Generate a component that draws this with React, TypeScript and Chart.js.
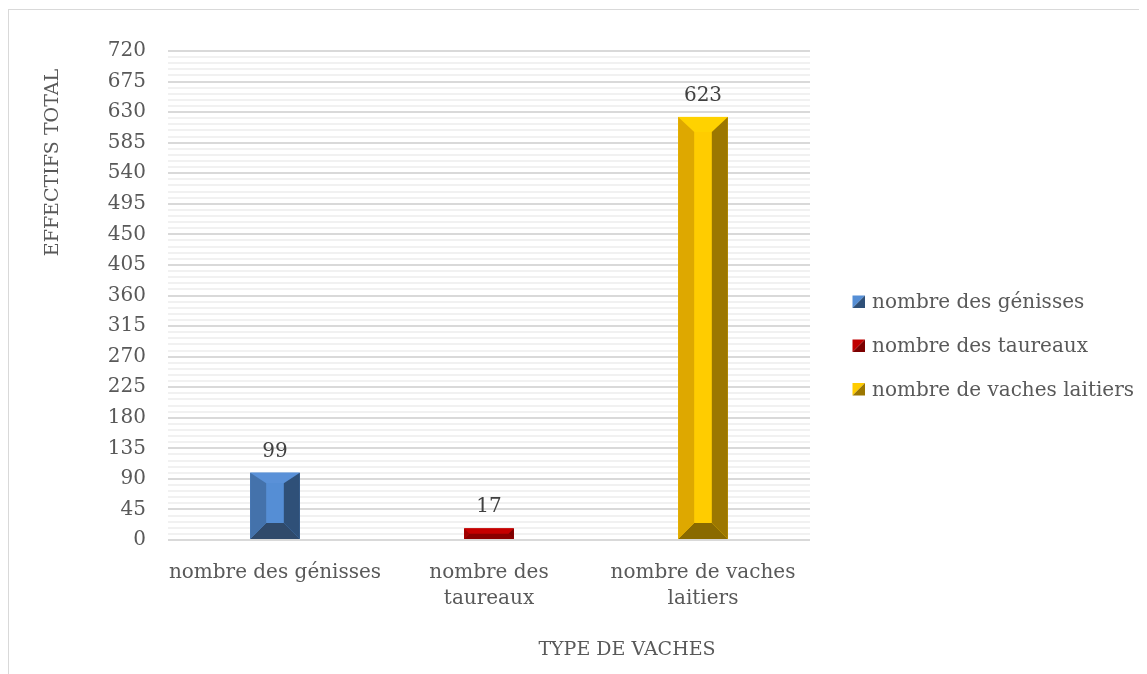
import React, { useEffect, useRef } from 'react';
import { Chart, registerables } from 'chart.js';

Chart.register(...registerables);

// ---- data ----
const categories: string[][] = [
  ['nombre des génisses'],
  ['nombre des', 'taureaux'],
  ['nombre de vaches', 'laitiers'],
];
const legendLabels: string[] = ['nombre des génisses', 'nombre des taureaux', 'nombre de vaches laitiers'];
const values: number[] = [99, 17, 623];
const yMin = 0;
const yMax = 720;
const yMajorStep = 45;
const yMinorStep = 9;
const xTitle = 'TYPE DE VACHES';
const yTitle = 'EFFECTIFS TOTAL';

// ---- colours (per bar) ----
const faceCenter = ['#558ed5', '#c00000', '#ffcc00'];
const faceTop = ['#5a91d8', '#c60000', '#ffd200'];
const faceLeft = ['#4472ab', '#a00000', '#dea800'];
const faceRight = ['#2f5078', '#7c0000', '#9c7700'];
const faceBottom = ['#304a6b', '#8a0000', '#8a6a00'];

const FONT = '"DejaVu Serif", serif';
const TEXT = '#595959';

function poly(ctx: CanvasRenderingContext2D, pts: number[][], color: string) {
  ctx.beginPath();
  ctx.moveTo(pts[0][0], pts[0][1]);
  for (let i = 1; i < pts.length; i++) ctx.lineTo(pts[i][0], pts[i][1]);
  ctx.closePath();
  ctx.fillStyle = color;
  ctx.fill();
}

const bevelPlugin = {
  id: 'bevelBars',
  afterDatasetsDraw(chart: any) {
    const ctx: CanvasRenderingContext2D = chart.ctx;
    const meta = chart.getDatasetMeta(0);
    const data = chart.data.datasets[0].data as number[];
    meta.data.forEach((el: any, i: number) => {
      const { x, y, base, width } = el.getProps(['x', 'y', 'base', 'width'], true);
      const left = x - width / 2;
      const right = x + width / 2;
      const top = y;
      const bottom = base;
      const h = bottom - top;
      const small = h < 30;
      const side = small ? Math.min(width / 2, h / 2) : Math.min(16, width / 2);
      const tb = small ? h / 2 : Math.min(15, h * 0.16);
      const bb = small ? h / 2 : Math.min(16, h * 0.24);
      const il = left + side;
      const ir = right - side;
      const it = top + tb;
      const ib = bottom - bb;
      ctx.save();
      ctx.fillStyle = faceCenter[i];
      ctx.fillRect(left, top, width, h);
      poly(ctx, [[left, top], [right, top], [ir, it], [il, it]], faceTop[i]);
      poly(ctx, [[left, bottom], [right, bottom], [ir, ib], [il, ib]], faceBottom[i]);
      poly(ctx, [[left, top], [il, it], [il, ib], [left, bottom]], faceLeft[i]);
      poly(ctx, [[right, top], [ir, it], [ir, ib], [right, bottom]], faceRight[i]);
      // value label
      ctx.fillStyle = '#404040';
      ctx.font = `20px ${FONT}`;
      ctx.textAlign = 'center';
      ctx.textBaseline = 'alphabetic';
      ctx.fillText(String(data[i]), x, top - 16);
      ctx.restore();
    });
  },
  afterDraw(chart: any) {
    const ctx: CanvasRenderingContext2D = chart.ctx;
    const area = chart.chartArea;
    ctx.save();
    // y title
    ctx.fillStyle = TEXT;
    ctx.font = `19px ${FONT}`;
    ctx.textAlign = 'center';
    ctx.textBaseline = 'alphabetic';
    ctx.translate(area.left - 110, area.top + 111.5);
    ctx.rotate(-Math.PI / 2);
    ctx.fillText(yTitle, 0, 0);
    ctx.restore();

    ctx.save();
    ctx.fillStyle = TEXT;
    ctx.font = `19px ${FONT}`;
    ctx.textAlign = 'center';
    ctx.textBaseline = 'alphabetic';
    ctx.fillText(xTitle, area.right - 183, area.bottom + 115);
    ctx.restore();

    // legend
    const baselines = [298, 342, 385.5];
    const sq = 12.5;
    legendLabels.forEach((lab, i) => {
      const sx = area.right + 42.5;
      const by = baselines[i];
      ctx.save();
      poly(ctx, [[sx, by - sq], [sx + sq, by - sq], [sx, by]], faceCenter[i]);
      poly(ctx, [[sx + sq, by - sq], [sx + sq, by], [sx, by]], faceRight[i]);
      ctx.fillStyle = TEXT;
      ctx.font = `20px ${FONT}`;
      ctx.textAlign = 'left';
      ctx.textBaseline = 'alphabetic';
      ctx.fillText(lab, area.right + 62, by);
      ctx.restore();
    });
  },
};

const CANVAS_W = 1138;
const CANVAS_H = 656;

export default function App() {
  const ref = useRef<HTMLCanvasElement | null>(null);

  useEffect(() => {
    document.documentElement.style.overflow = 'hidden';
    document.body.style.overflow = 'hidden';
    const canvas = ref.current;
    if (!canvas) return;
    const chart = new Chart(canvas, {
      type: 'bar',
      data: {
        labels: categories,
        datasets: [
          {
            label: 'effectif',
            data: values,
            backgroundColor: faceCenter,
            borderWidth: 0,
            barPercentage: 0.232,
            categoryPercentage: 1,
          },
        ],
      },
      options: {
        responsive: false,
        animation: false,
        events: [],
        layout: { padding: { left: 0, top: 41, right: 337, bottom: 0 } },
        plugins: {
          legend: { display: false },
          tooltip: { enabled: false },
          title: { display: false },
        },
        scales: {
          x: {
            offset: true,
            grid: { display: false, drawTicks: false },
            border: { display: false },
            ticks: {
              color: TEXT,
              font: { family: FONT, size: 20, lineHeight: 1.3 },
              padding: 20,
              maxRotation: 0,
              minRotation: 0,
              autoSkip: false,
            },
            afterFit: (scale: any) => {
              scale.height = CANVAS_H - 530;
            },
          },
          y: {
            min: yMin,
            max: yMax,
            grid: {
              drawTicks: false,
              color: (c: any) => (c.tick && c.tick.value % yMajorStep === 0 ? '#d9d9d9' : '#f1f1f1'),
              lineWidth: 2,
            },
            border: { display: false },
            ticks: {
              stepSize: yMinorStep,
              autoSkip: false,
              color: TEXT,
              font: { family: FONT, size: 20 },
              padding: 22,
              callback: (v: any) => (Number(v) % yMajorStep === 0 ? String(v) : ''),
            },
            afterFit: (scale: any) => {
              scale.width = 159;
            },
          },
        },
      },
      plugins: [bevelPlugin],
    } as any);
    return () => chart.destroy();
  }, []);

  return (
    <div style={{ paddingTop: 1, height: 665, overflow: 'hidden' }}>
      <div
        style={{
          borderLeft: '1px solid #d9d9d9',
          borderTop: '1px solid #d9d9d9',
          width: CANVAS_W,
          height: CANVAS_H + 20,
        }}
      >
        <canvas ref={ref} width={CANVAS_W} height={CANVAS_H} style={{ display: 'block', width: CANVAS_W, height: CANVAS_H }} />
      </div>
    </div>
  );
}
